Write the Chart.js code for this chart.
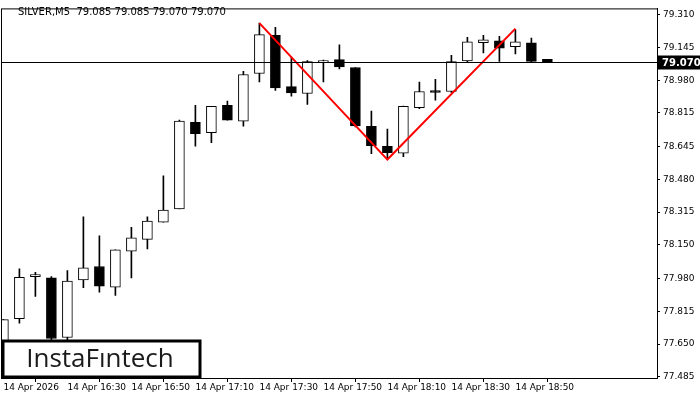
<!DOCTYPE html>
<html><head><meta charset="utf-8">
<script src="https://cdn.jsdelivr.net/npm/chart.js@4.4.1/dist/chart.umd.min.js"></script>
<style>html,body{margin:0;padding:0;background:#fff}canvas{display:block}</style>
</head><body>
<canvas id="c" width="700" height="400" style="width:700px;height:400px"></canvas>
<script>
const opens  = [77.60,77.778,77.990,77.984,77.683,77.974,78.041,77.937,78.118,78.178,78.265,78.331,78.768,78.715,78.853,78.774,79.014,79.206,78.948,78.913,79.069,79.084,79.044,78.747,78.647,78.612,78.841,78.928,78.923,79.077,79.169,79.179,79.149,79.169,79.085];
const highs  = [77.773,78.029,78.012,77.990,78.021,78.292,78.196,78.125,78.238,78.292,78.498,78.779,78.853,78.848,78.875,79.025,79.268,79.246,79.096,79.079,79.082,79.159,79.044,78.824,78.734,78.850,78.970,78.984,79.106,79.196,79.206,79.201,79.235,79.193,79.085];
const lows   = [77.55,77.756,77.890,77.670,77.670,77.934,77.912,77.895,77.984,78.130,78.265,78.331,78.648,78.665,78.778,78.749,78.971,78.928,78.900,78.858,78.971,79.037,78.745,78.610,78.585,78.595,78.836,78.880,78.918,79.072,79.117,79.075,79.112,79.070,79.070];
const closes = [77.773,77.987,77.990,77.678,77.967,78.034,77.942,78.125,78.185,78.270,78.326,78.774,78.710,78.848,78.778,79.009,79.210,78.941,78.916,79.074,79.079,79.047,78.750,78.650,78.615,78.848,78.923,78.918,79.074,79.174,79.184,79.142,79.174,79.075,79.070];
const timeLabels = ["14 Apr 2026","14 Apr 16:30","14 Apr 16:50","14 Apr 17:10","14 Apr 17:30","14 Apr 17:50","14 Apr 18:10","14 Apr 18:30","14 Apr 18:50"];
const labelIndex = [0,4,8,12,16,20,24,28,32];
const yTicks = [79.310,79.145,78.980,78.815,78.645,78.480,78.315,78.150,77.980,77.815,77.650,77.485];
const patternX = [16,24,32];
const patternY = [79.268,78.580,79.240];
const currentPrice = 79.070;
const titleText = "SILVER,M5  79.085 79.085 79.070 79.070";

const wicks = highs.map((h,i)=>({x:i,y:[lows[i],h]}));
const bodies = opens.map((o,i)=>({x:i,y:[Math.min(o,closes[i]),Math.max(o,closes[i])]}));
const bodyFill = opens.map((o,i)=>closes[i]>=o?'#ffffff':'#000000');

const overlay = {
  id:'overlay',
  afterDraw(chart){
    const ctx=chart.ctx, a=chart.chartArea, y=chart.scales.y;
    const py=Math.round(y.getPixelForValue(currentPrice))+0.5;
    ctx.save();
    ctx.strokeStyle='#000';ctx.lineWidth=1;
    ctx.beginPath();ctx.moveTo(a.left,py);ctx.lineTo(a.right,py);ctx.stroke();
    ctx.fillStyle='#000';ctx.fillRect(a.right+1,py-7,42,14);
    ctx.fillStyle='#fff';ctx.font='bold 10px "DejaVu Sans"';ctx.textBaseline='middle';ctx.textAlign='left';
    ctx.fillText(currentPrice.toFixed(3),a.right+5,py+1);
    ctx.strokeStyle='#000';ctx.strokeRect(a.left+0.5,a.top+0.5,a.right-a.left,a.bottom-a.top);
    ctx.fillStyle='#000';ctx.font='10px "DejaVu Sans"';ctx.textBaseline='middle';
    ctx.fillText(titleText,18,12);
    ctx.fillStyle='#fff';ctx.fillRect(3,341,197,36);
    ctx.lineWidth=3;ctx.strokeRect(3,341,197,36);
    ctx.fillStyle='#1a1a1a';ctx.font='500 26px "Open Sans"';ctx.textAlign='center';
    ctx.fillText('InstaFıntech',100,360);
    ctx.restore();
  }
};

new Chart(document.getElementById('c'),{
  data:{datasets:[
    {type:'bar',data:wicks,backgroundColor:'#000',barThickness:1,grouped:false,order:3},
    {type:'bar',data:bodies,backgroundColor:bodyFill,borderColor:'#000',borderWidth:1,borderSkipped:false,barThickness:10,grouped:false,minBarLength:2,order:2},
    {type:'line',data:patternX.map((x,i)=>({x,y:patternY[i]})),borderColor:'#ff0000',borderWidth:2,pointRadius:0,order:1}
  ]},
  options:{
    responsive:false,animation:false,
    layout:{padding:{top:7,left:1,right:0,bottom:0}},
    plugins:{legend:{display:false},tooltip:{enabled:false}},
    scales:{
      x:{type:'linear',min:-0.15,max:40.85,offset:false,
        grid:{display:true,drawOnChartArea:false,tickLength:4,color:'#000'},border:{display:true,color:'#000'},
        afterBuildTicks(s){s.ticks=labelIndex.map(v=>({value:v}));},
        afterFit(s){s.height=22;},
        ticks:{autoSkip:false,maxRotation:0,align:'start',padding:0,color:'#000',font:{family:'DejaVu Sans',size:9},
          callback:(v)=>timeLabels[labelIndex.indexOf(v)]}},
      y:{position:'right',min:77.479,max:79.342,
        grid:{display:true,drawOnChartArea:false,tickLength:3,color:'#000'},border:{display:true,color:'#000'},
        afterBuildTicks(s){s.ticks=yTicks.map(v=>({value:v}));},
        afterFit(s){s.width=43;},
        ticks:{autoSkip:false,padding:3,color:'#000',font:{family:'DejaVu Sans',size:9},callback:v=>v.toFixed(3)}}
    }
  },
  plugins:[overlay]
});
</script></body></html>
